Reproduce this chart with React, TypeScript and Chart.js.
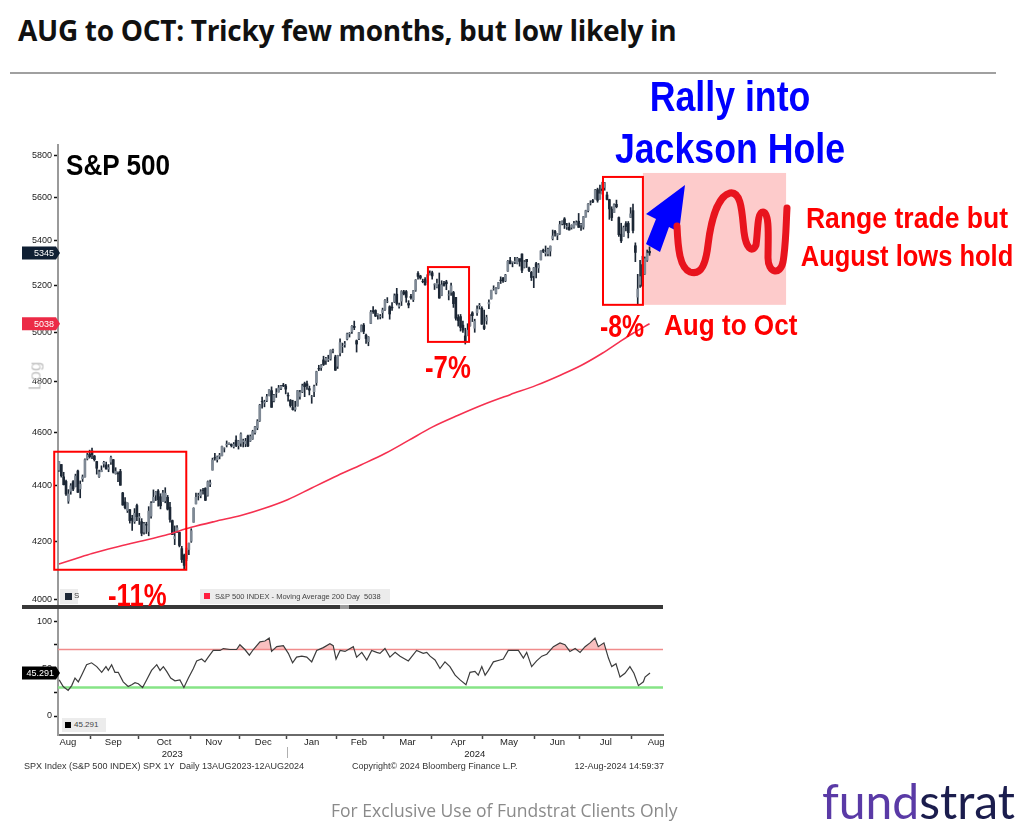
import React, { useEffect, useRef } from 'react';
import { Chart, registerables } from 'chart.js';

Chart.register(...registerables);

// ---------------- DATA (S&P 500 daily, 14 Aug 2023 - 12 Aug 2024) ----------------
const opens = [
  4458, 4479, 4433, 4416, 4344, 4380, 4415, 4397, 4455, 4389, 4426, 4433, 4500, 4518,
  4530, 4511, 4490, 4434, 4452, 4481, 4477, 4462, 4488, 4497, 4445, 4446, 4453, 4374, 4341, 4310, 4313, 4282, 4270, 4328,
  4284, 4270, 4233, 4260, 4235, 4290, 4339, 4366, 4381, 4360, 4342, 4345, 4358, 4322, 4274, 4210, 4235, 4232, 4175, 4152, 4140, 4172,
  4201, 4268, 4334, 4365, 4364, 4384, 4391, 4365, 4406, 4458, 4505, 4497, 4510, 4512, 4538, 4553, 4555, 4555, 4546, 4571, 4550,
  4559, 4565, 4557, 4587, 4568, 4576, 4600, 4618, 4646, 4721, 4715, 4725, 4744, 4764, 4724, 4754, 4759, 4773, 4786, 4783,
  4745, 4726, 4697, 4690, 4703, 4741, 4759, 4792, 4791, 4772, 4739, 4760, 4796, 4853, 4856, 4888, 4886, 4888, 4892, 4925, 4900,
  4862, 4916, 4943, 4950, 4974, 4995, 5005, 5027, 4967, 4976, 5004, 5032, 4990, 4963, 5039, 5093, 5094, 5075, 5068, 5085,
  5098, 5131, 5110, 5108, 5132, 5164, 5111, 5134, 5174, 5175, 5124, 5154, 5140, 5181, 5254, 5243, 5219, 5228, 5226, 5248,
  5257, 5204, 5194, 5205, 5158, 5211, 5217, 5160, 5172, 5171, 5150, 5064, 5068, 5032, 4987, 4987, 5029, 5084, 5019, 5084, 5114, 5103,
  5029, 5050, 5122, 5143, 5187, 5168, 5189, 5225, 5233, 5222, 5264, 5310, 5303, 5305, 5298, 5320, 5340, 5281, 5316, 5278, 5259, 5244,
  5297, 5278, 5314, 5357, 5343, 5341, 5353, 5409, 5441, 5424, 5432, 5477, 5499, 5462, 5461, 5460, 5460, 5473, 5488,
  5471, 5461, 5507, 5537, 5572, 5584, 5591, 5635, 5590, 5638, 5645, 5610, 5588, 5544, 5528, 5566, 5505, 5429, 5419, 5477, 5479, 5506,
  5537, 5377, 5151, 5206, 5293, 5253, 5312, 5352,
];
const highs = [
  4490, 4479, 4450, 4421, 4386, 4408, 4419, 4443, 4458, 4418, 4440, 4500, 4521, 4533,
  4541, 4513, 4491, 4458, 4474, 4491, 4488, 4479, 4511, 4498, 4467, 4452, 4461, 4376, 4357, 4338, 4314, 4293, 4317, 4333,
  4300, 4281, 4268, 4268, 4324, 4342, 4385, 4379, 4386, 4371, 4383, 4393, 4365, 4340, 4276, 4255, 4256, 4233, 4183, 4156, 4177, 4194,
  4245, 4320, 4373, 4373, 4386, 4391, 4393, 4418, 4421, 4503, 4521, 4511, 4521, 4548, 4542, 4568, 4561, 4557, 4562, 4588, 4570,
  4599, 4575, 4578, 4590, 4591, 4609, 4624, 4650, 4710, 4738, 4726, 4749, 4768, 4779, 4749, 4772, 4785, 4785, 4793, 4789,
  4755, 4729, 4726, 4722, 4765, 4765, 4790, 4798, 4802, 4782, 4745, 4786, 4842, 4866, 4869, 4903, 4898, 4907, 4929, 4932, 4907,
  4907, 4975, 4957, 4964, 4999, 5001, 5030, 5049, 4970, 5002, 5033, 5039, 4994, 4984, 5094, 5111, 5097, 5080, 5077, 5104,
  5141, 5149, 5114, 5128, 5165, 5189, 5125, 5179, 5180, 5180, 5136, 5163, 5180, 5227, 5262, 5246, 5229, 5236, 5248, 5265,
  5264, 5209, 5229, 5256, 5222, 5219, 5224, 5179, 5212, 5176, 5150, 5076, 5077, 5049, 5019, 5038, 5077, 5089, 5057, 5114, 5124, 5110,
  5096, 5074, 5139, 5181, 5200, 5192, 5215, 5239, 5237, 5250, 5311, 5325, 5305, 5325, 5325, 5315, 5341, 5311, 5316, 5282, 5263, 5280,
  5303, 5298, 5354, 5362, 5376, 5366, 5376, 5448, 5447, 5432, 5488, 5490, 5505, 5478, 5480, 5472, 5488, 5490, 5524,
  5479, 5510, 5539, 5570, 5583, 5590, 5636, 5642, 5656, 5670, 5669, 5623, 5590, 5555, 5568, 5586, 5508, 5479, 5466, 5487, 5487, 5551,
  5567, 5390, 5250, 5312, 5330, 5327, 5358, 5372,
];
const lows = [
  4453, 4432, 4403, 4365, 4336, 4369, 4382, 4396, 4376, 4356, 4416, 4432, 4496, 4503,
  4501, 4492, 4443, 4431, 4452, 4469, 4462, 4452, 4479, 4447, 4443, 4415, 4402, 4329, 4316, 4303, 4265, 4239, 4264, 4274,
  4260, 4220, 4226, 4228, 4220, 4283, 4339, 4346, 4326, 4316, 4342, 4338, 4312, 4268, 4224, 4189, 4231, 4181, 4127, 4103, 4133, 4154,
  4197, 4268, 4334, 4348, 4356, 4369, 4346, 4362, 4397, 4458, 4495, 4488, 4500, 4511, 4526, 4545, 4554, 4545, 4541, 4546, 4537,
  4547, 4545, 4546, 4546, 4566, 4574, 4594, 4611, 4643, 4695, 4700, 4720, 4743, 4698, 4719, 4737, 4758, 4768, 4780, 4751,
  4722, 4699, 4687, 4683, 4703, 4730, 4756, 4740, 4769, 4747, 4714, 4740, 4785, 4844, 4845, 4865, 4870, 4881, 4887, 4917, 4845,
  4853, 4904, 4918, 4940, 4970, 4982, 4997, 5013, 4920, 4971, 5004, 4996, 4956, 4946, 5038, 5081, 5068, 5057, 5058, 5062,
  5094, 5127, 5057, 5094, 5128, 5117, 5104, 5115, 5161, 5129, 5105, 5142, 5132, 5176, 5229, 5229, 5213, 5203, 5214, 5248,
  5229, 5184, 5191, 5146, 5157, 5198, 5183, 5139, 5158, 5107, 5053, 5028, 5007, 5001, 4953, 4990, 5028, 5047, 5002, 5073, 5100, 5035,
  5013, 5036, 5102, 5143, 5181, 5165, 5187, 5210, 5215, 5218, 5263, 5296, 5283, 5297, 5296, 5286, 5257, 5278, 5280, 5262, 5223, 5192,
  5234, 5258, 5314, 5346, 5331, 5331, 5331, 5403, 5420, 5404, 5428, 5471, 5455, 5451, 5448, 5452, 5456, 5471, 5460,
  5446, 5452, 5507, 5531, 5563, 5574, 5591, 5576, 5590, 5614, 5632, 5587, 5497, 5491, 5527, 5550, 5419, 5391, 5419, 5444, 5412, 5505,
  5435, 5306, 5120, 5193, 5196, 5250, 5307, 5334,
];
const closes = [
  4490, 4437, 4404, 4370, 4370, 4400, 4388, 4436, 4376, 4406, 4433, 4497, 4514, 4508,
  4516, 4497, 4465, 4451, 4457, 4487, 4462, 4467, 4505, 4450, 4454, 4444, 4402, 4330, 4320, 4337, 4274, 4275, 4300, 4288,
  4288, 4229, 4263, 4258, 4308, 4336, 4358, 4377, 4349, 4327, 4374, 4373, 4315, 4278, 4224, 4217, 4248, 4186, 4137, 4117, 4167, 4194,
  4238, 4318, 4358, 4366, 4378, 4383, 4347, 4415, 4411, 4496, 4503, 4508, 4514, 4547, 4538, 4556, 4559, 4550, 4555, 4551, 4568,
  4595, 4569, 4567, 4549, 4585, 4604, 4622, 4644, 4707, 4720, 4719, 4740, 4768, 4698, 4746, 4755, 4775, 4781, 4783, 4770,
  4743, 4705, 4689, 4697, 4764, 4757, 4783, 4780, 4784, 4766, 4739, 4780, 4840, 4851, 4865, 4869, 4894, 4891, 4928, 4925, 4846,
  4906, 4959, 4943, 4954, 4995, 4998, 5027, 5022, 4953, 5001, 5030, 5006, 4976, 4982, 5087, 5089, 5070, 5078, 5069, 5096,
  5137, 5131, 5079, 5105, 5157, 5124, 5117, 5175, 5165, 5150, 5117, 5149, 5179, 5225, 5241, 5234, 5218, 5204, 5248, 5254,
  5243, 5205, 5211, 5147, 5204, 5202, 5209, 5161, 5200, 5123, 5061, 5051, 5022, 5011, 4967, 5011, 5070, 5072, 5048, 5100, 5116, 5036,
  5018, 5064, 5128, 5181, 5187, 5188, 5214, 5223, 5221, 5247, 5308, 5297, 5303, 5308, 5321, 5307, 5268, 5305, 5306, 5267, 5236, 5278,
  5283, 5291, 5354, 5352, 5347, 5361, 5375, 5421, 5434, 5432, 5473, 5487, 5473, 5464, 5448, 5469, 5478, 5482, 5460,
  5475, 5509, 5537, 5567, 5572, 5577, 5633, 5585, 5615, 5631, 5667, 5589, 5545, 5505, 5564, 5555, 5427, 5399, 5459, 5464, 5436, 5522,
  5446, 5347, 5186, 5240, 5199, 5319, 5344, 5345,
];

// 200-day moving average, read at trading-day positions
const maDays = [0, 7, 14, 24, 34, 45, 56, 66, 77, 87, 97, 107, 118, 128, 138, 148, 158, 169, 180, 191, 202, 212, 221, 230, 237, 243, 250];
const maValues = [4122, 4140, 4158, 4180, 4200, 4222, 4250, 4271, 4292, 4318, 4350, 4392, 4438, 4478, 4520, 4570, 4621, 4667, 4710, 4748, 4785, 4825, 4865, 4915, 4960, 4998, 5038];

// RSI (14d), read at trading-day positions
const rsiDays = [0.1, 1.8, 3.9, 5.4, 6.8, 8.2, 9.6, 11.7, 13.8, 16, 18.1, 19.9, 20.9, 22.3, 23.7, 25.1, 27.2, 29.3, 30.8, 32.2, 33.6, 35.4, 37.1, 39.2, 41.4, 42.8, 44.2, 45.6, 47.3, 49.1, 51.2, 52.9, 54.8, 56.9, 58.3, 60.4, 61.8, 63.2, 65.3, 68.2, 69.6, 72.4, 75.2, 76.6, 78.7, 80.6, 82.3, 85.1, 87.2, 89, 90, 92.2, 95, 97.1, 98.9, 100.6, 102.8, 104.9, 107, 109.1, 111.9, 114.7, 116.1, 117.3, 119, 121.1, 124.6, 126, 128.2, 130.3, 132.4, 134.5, 135.9, 138, 140.1, 142.3, 144.4, 147.9, 151.4, 154.2, 155.7, 157.1, 159.2, 161.3, 163.4, 165.5, 167.7, 169.8, 172.3, 174, 176.1, 177.5, 179, 180.4, 181.8, 183.9, 186.7, 188.1, 190.2, 193.1, 194.5, 196.6, 198, 200.1, 202.2, 204.4, 206.5, 209.3, 212.1, 214.2, 216.3, 218.5, 220.6, 222.7, 224.8, 226.9, 228.3, 230.7, 232.6, 234, 235.8, 237.5, 239.6, 241.7, 243.4, 245.3, 247.4, 248.1, 250.2];
const rsiValues = [38, 31, 27, 32, 40, 36, 43, 54, 56, 52, 46, 52, 48, 54, 46, 46, 36, 31, 33, 35, 34, 30, 38, 48, 54, 48, 52, 47, 40, 37, 38, 30, 40, 50, 58, 60, 57, 62, 69, 69, 71, 70, 70, 75, 70, 64, 70, 78, 79, 82, 68, 73, 74, 66, 56, 62, 63, 62, 57, 69, 72, 76, 74, 60, 69, 68, 73, 62, 67, 59, 69, 67, 66, 71, 62, 67, 63, 58, 69, 66, 67, 63, 59, 50, 57, 52, 43, 38, 33, 46, 47, 43, 52, 43, 48, 57, 59, 60, 69, 69, 69, 61, 67, 52, 58, 63, 65, 73, 77, 75, 68, 71, 67, 73, 77, 82, 73, 77, 61, 52, 55, 41, 45, 52, 45, 32, 36, 41, 45.291];

const priceTicks = [4000, 4200, 4400, 4600, 4800, 5000, 5200, 5400, 5600, 5800];
const rsiTicks = [0, 25, 50, 75, 100];
const rsiTickLabels = ['0', '', '50', '', '100'];
const rsiUpper = 70;
const rsiLower = 30;
const monthBoundaries = [13.5, 33.5, 55.5, 76.5, 96.5, 117.5, 137.5, 157.5, 179.5, 201.5, 220.5, 242.5];
const monthLabels = ['Aug', 'Sep', 'Oct', 'Nov', 'Dec', 'Jan', 'Feb', 'Mar', 'Apr', 'May', 'Jun', 'Jul', 'Aug'];
const monthLabelDays = [3.8, 23, 44.5, 65.5, 86.5, 107, 127, 147.5, 169, 190.5, 211, 231.5, 252.8];
const yearLabels = ['2023', '2024'];
const yearLabelDays = [48, 176];
const yearBreakDay = 96.5;
const lastPrice = 5345;
const lastMA = 5038;
const lastRSI = 45.291;

// annotation regions (trading-day index, price)
const drawdownBoxes = [
  { from: -2, to: 53.9, hi: 4527, lo: 4102 },
  { from: 156.2, to: 173.6, hi: 5282, lo: 4962 },
  { from: 230.3, to: 247.2, hi: 5695, lo: 5118 },
];
const rangeShade = { from: 247.2, to: 307.8, hi: 5714, lo: 5118 };

// ---------------- LAYOUT CONSTANTS ----------------
const X_MIN = -0.4;
const X_MAX = 255.7;
const TICK_FONT = '"Liberation Sans", Arial, sans-serif';
const NAVY = '#1c2735';

function drawTag(ctx: CanvasRenderingContext2D, y: number, text: string, bg: string) {
  ctx.save();
  ctx.fillStyle = bg;
  ctx.beginPath();
  ctx.moveTo(22, y - 6.5);
  ctx.lineTo(56, y - 6.5);
  ctx.lineTo(60, y);
  ctx.lineTo(56, y + 6.5);
  ctx.lineTo(22, y + 6.5);
  ctx.closePath();
  ctx.fill();
  ctx.fillStyle = '#ffffff';
  ctx.font = `9px ${TICK_FONT}`;
  ctx.textAlign = 'right';
  ctx.textBaseline = 'middle';
  ctx.fillText(text, 54, y + 0.5);
  ctx.restore();
}

const pricePlugin = {
  id: 'priceAnnotations',
  beforeDatasetsDraw(chart: any) {
    const { ctx, scales } = chart;
    const x = scales.x, y = scales.y;
    const x0 = x.getPixelForValue(rangeShade.from), x1 = x.getPixelForValue(rangeShade.to);
    const y0 = y.getPixelForValue(rangeShade.hi), y1 = y.getPixelForValue(rangeShade.lo);
    ctx.save();
    ctx.fillStyle = '#fdcbcb';
    ctx.fillRect(x0, y0, x1 - x0, y1 - y0);
    ctx.restore();
  },
  afterDatasetsDraw(chart: any) {
    const { ctx, scales } = chart;
    const x = scales.x, y = scales.y;
    ctx.save();
    ctx.strokeStyle = '#ff0000';
    ctx.lineWidth = 2;
    drawdownBoxes.forEach((b) => {
      const x0 = x.getPixelForValue(b.from), x1 = x.getPixelForValue(b.to);
      const y0 = y.getPixelForValue(b.hi), y1 = y.getPixelForValue(b.lo);
      ctx.strokeRect(x0, y0, x1 - x0, y1 - y0);
    });
    ctx.restore();
  },
  afterDraw(chart: any) {
    const { ctx, scales } = chart;
    drawTag(ctx, scales.y.getPixelForValue(lastPrice), String(lastPrice), '#0f1f33');
    drawTag(ctx, scales.y.getPixelForValue(lastMA), String(lastMA), '#ec2a46');
  },
};

const rsiPlugin = {
  id: 'rsiExtras',
  afterDraw(chart: any) {
    const { ctx, scales, chartArea } = chart;
    const xb = scales.x.getPixelForValue(yearBreakDay);
    ctx.save();
    ctx.strokeStyle = '#b0b0b0';
    ctx.lineWidth = 1;
    ctx.beginPath();
    ctx.moveTo(Math.round(xb) + 0.5, chartArea.bottom + 12);
    ctx.lineTo(Math.round(xb) + 0.5, chartArea.bottom + 23);
    ctx.stroke();
    ctx.restore();
    drawTag(ctx, scales.y.getPixelForValue(lastRSI), String(lastRSI), '#000000');
  },
};

type XTick = { value: number; label: string | string[]; boundary: boolean };
const xTickDefs: XTick[] = [
  ...monthBoundaries.map((v) => ({ value: v, label: '', boundary: true })),
  ...monthLabelDays.map((v, i) => ({ value: v, label: monthLabels[i], boundary: false })),
  ...yearLabelDays.map((v, i) => ({ value: v, label: ['', yearLabels[i]], boundary: false })),
].sort((a, b) => a.value - b.value);

function zeroPad(scale: any) {
  scale.paddingTop = 0;
  scale.paddingBottom = 0;
  scale.paddingLeft = 0;
  scale.paddingRight = 0;
}

function Label(props: { text: string; x: number; baseline: number; size: number; color: string; sx: number; align?: 'left' | 'center' }) {
  const { text, x, baseline, size, color, sx, align = 'left' } = props;
  const top = baseline - 0.8465 * size;
  return (
    <div
      style={{
        position: 'absolute',
        left: x,
        top,
        fontFamily: TICK_FONT,
        fontWeight: 700,
        fontSize: size,
        lineHeight: 1,
        color,
        whiteSpace: 'nowrap',
        transform: align === 'center' ? `translateX(-50%) scaleX(${sx})` : `scaleX(${sx})`,
        transformOrigin: align === 'center' ? 'center' : 'left',
      }}
    >
      {text}
    </div>
  );
}

export default function App() {
  const priceRef = useRef<HTMLCanvasElement>(null);
  const rsiRef = useRef<HTMLCanvasElement>(null);

  useEffect(() => {
    const wicks = closes.map((_, i) => ({ x: i, y: [lows[i], highs[i]] }));
    const bodies = closes.map((c, i) => ({ x: i, y: [opens[i], c] }));
    const maPoints = maDays.map((d, i) => ({ x: d, y: maValues[i] }));

    const priceChart = new Chart(priceRef.current as HTMLCanvasElement, {
      type: 'bar',
      data: {
        datasets: [
          {
            type: 'line',
            data: maPoints,
            borderColor: '#f5304f',
            borderWidth: 1.6,
            pointRadius: 0,
            cubicInterpolationMode: 'monotone',
            order: 0,
          } as any,
          {
            type: 'bar',
            data: wicks,
            backgroundColor: NAVY,
            barThickness: 1,
            grouped: false,
            order: 2,
          } as any,
          {
            type: 'bar',
            data: bodies,
            backgroundColor: (c: any) => (closes[c.dataIndex] >= opens[c.dataIndex] ? '#7f8995' : NAVY),
            barThickness: 2,
            grouped: false,
            order: 1,
          } as any,
        ],
      },
      options: {
        animation: false,
        responsive: false,
        maintainAspectRatio: false,
        devicePixelRatio: 1,
        layout: { padding: { top: 10, right: 361, bottom: 10, left: 0 } },
        plugins: { legend: { display: false }, tooltip: { enabled: false } },
        scales: {
          x: { type: 'linear', min: X_MIN, max: X_MAX, offset: false, grid: { offset: false }, display: false },
          y: {
            type: 'logarithmic',
            min: 3983,
            max: 5849,
            afterBuildTicks: (s: any) => {
              s.ticks = priceTicks.map((v) => ({ value: v }));
            },
            afterFit: (s: any) => {
              s.width = 58;
              zeroPad(s);
            },
            ticks: {
              callback: (v: any) => String(v),
              font: { family: TICK_FONT, size: 9 },
              color: '#222',
              padding: 2,
              autoSkip: false,
            },
            grid: { drawOnChartArea: false, tickLength: 4, tickColor: '#111', tickWidth: 1.5 },
            border: { color: '#9a9a9a', width: 2 },
          },
        },
      } as any,
      plugins: [pricePlugin],
    });

    const rsiPoints = rsiDays.map((d, i) => ({ x: d, y: rsiValues[i] }));
    const rsiChart = new Chart(rsiRef.current as HTMLCanvasElement, {
      type: 'line',
      data: {
        datasets: [
          {
            data: rsiPoints,
            borderColor: '#3c3c3c',
            borderWidth: 1.2,
            pointRadius: 0,
            fill: { value: rsiUpper, above: 'rgba(244,140,140,0.55)', below: 'rgba(0,0,0,0)' },
            order: 0,
          } as any,
          {
            data: [{ x: X_MIN, y: rsiUpper }, { x: X_MAX, y: rsiUpper }],
            borderColor: '#f08c8c',
            borderWidth: 1.5,
            pointRadius: 0,
            order: 1,
          },
          {
            data: [{ x: X_MIN, y: rsiLower }, { x: X_MAX, y: rsiLower }],
            borderColor: '#86e486',
            borderWidth: 2.5,
            pointRadius: 0,
            order: 1,
          },
        ],
      },
      options: {
        animation: false,
        responsive: false,
        maintainAspectRatio: false,
        devicePixelRatio: 1,
        layout: { padding: { top: 4, right: 361, bottom: 5, left: 0 } },
        plugins: { legend: { display: false }, tooltip: { enabled: false } },
        scales: {
          x: {
            type: 'linear',
            min: X_MIN,
            max: X_MAX,
            offset: false,
            afterBuildTicks: (s: any) => {
              s.ticks = xTickDefs.map((d) => ({ value: d.value }));
            },
            afterFit: (s: any) => {
              s.height = 40;
              zeroPad(s);
            },
            ticks: {
              callback: (_v: any, i: number) => xTickDefs[i].label,
              font: { family: TICK_FONT, size: 9.5 },
              color: '#222',
              padding: -2,
              autoSkip: false,
              maxRotation: 0,
              minRotation: 0,
            },
            grid: {
              drawOnChartArea: false,
              tickLength: 4,
              tickWidth: 1.5,
              tickColor: (c: any) => (xTickDefs[c.index] && xTickDefs[c.index].boundary ? '#444' : 'rgba(0,0,0,0)'),
            },
            border: { color: '#6a6a6a', width: 2 },
          },
          y: {
            type: 'linear',
            min: -20,
            max: 111.6,
            afterBuildTicks: (s: any) => {
              s.ticks = rsiTicks.map((v) => ({ value: v }));
            },
            afterFit: (s: any) => {
              s.width = 58;
              zeroPad(s);
            },
            ticks: {
              callback: (_v: any, i: number) => rsiTickLabels[i],
              font: { family: TICK_FONT, size: 9 },
              color: '#222',
              padding: 2,
              autoSkip: false,
            },
            grid: { drawOnChartArea: false, tickLength: 4, tickColor: '#111', tickWidth: 1.5 },
            border: { color: '#9a9a9a', width: 2 },
          },
        },
      } as any,
      plugins: [rsiPlugin],
    });

    return () => {
      priceChart.destroy();
      rsiChart.destroy();
    };
  }, []);

  const small = { position: 'absolute' as const, fontFamily: TICK_FONT, fontSize: 9, lineHeight: 1, color: '#333', whiteSpace: 'nowrap' as const };

  return (
    <div style={{ position: 'absolute', left: 0, top: 0, width: 1024, height: 829, background: '#fff', overflow: 'hidden' }}>
      {/* Title */}
      <div style={{ position: 'absolute', left: 18, top: 16, fontFamily: '"Open Sans", sans-serif', fontWeight: 700, fontSize: 28, lineHeight: 1, color: '#111', whiteSpace: 'nowrap', letterSpacing: -0.3 }}>
        AUG to OCT: Tricky few months, but low likely in
      </div>
      <div style={{ position: 'absolute', left: 10, top: 72, width: 986, height: 1.5, background: '#a0a0a0' }} />

      {/* charts */}
      <canvas ref={priceRef} width={1024} height={480} style={{ position: 'absolute', left: 0, top: 135, width: 1024, height: 480 }} />
      <canvas ref={rsiRef} width={1024} height={174} style={{ position: 'absolute', left: 0, top: 606, width: 1024, height: 174 }} />

      {/* Log label */}
      <div style={{ position: 'absolute', left: 35, top: 376, fontFamily: TICK_FONT, fontSize: 17, lineHeight: 1, color: '#c4c4c4', transform: 'translate(-50%,-50%) rotate(-90deg)' }}>Log</div>

      {/* panel separator */}
      <div style={{ position: 'absolute', left: 22, top: 605, width: 641, height: 4, background: '#383838' }} />
      <div style={{ position: 'absolute', left: 340, top: 605, width: 9, height: 4, background: '#9a9a9a' }} />

      {/* legends */}
      <div style={{ position: 'absolute', left: 60, top: 589, width: 18, height: 15, background: '#ececec' }}>
        <div style={{ position: 'absolute', left: 5, top: 4, width: 7, height: 7, background: NAVY }} />
        <div style={{ ...small, left: 14, top: 3, fontSize: 8, color: '#444' }}>S</div>
      </div>
      <div style={{ position: 'absolute', left: 200, top: 589, width: 190, height: 15, background: '#ececec' }}>
        <div style={{ position: 'absolute', left: 4, top: 4, width: 6, height: 6, background: '#ff2040' }} />
        <div style={{ ...small, left: 15, top: 3.5, fontSize: 7.5, color: '#444' }}>S&amp;P 500 INDEX - Moving Average 200 Day&nbsp; 5038</div>
      </div>
      <div style={{ position: 'absolute', left: 62, top: 718, width: 44, height: 14, background: '#ececec' }}>
        <div style={{ position: 'absolute', left: 3, top: 4, width: 6, height: 6, background: '#000' }} />
        <div style={{ ...small, left: 12, top: 3, fontSize: 8, color: '#444' }}>45.291</div>
      </div>

      {/* footer of bloomberg chart */}
      <div style={{ ...small, left: 24, top: 762 }}>SPX Index (S&amp;P 500 INDEX) SPX 1Y&nbsp; Daily 13AUG2023-12AUG2024</div>
      <div style={{ ...small, left: 352, top: 762 }}>Copyright© 2024 Bloomberg Finance L.P.</div>
      <div style={{ ...small, right: 360, top: 762 }}>12-Aug-2024 14:59:37</div>

      {/* annotations */}
      <svg width={1024} height={829} style={{ position: 'absolute', left: 0, top: 0, pointerEvents: 'none' }}>
        <polygon points="685,185 646,214 656,219 646,244 660,252 669,227 679,232" fill="#0000ff" />
        <path
          d="M 677 226 C 678 250, 680 268, 690 272 C 702 276, 706 262, 708 245 C 711 220, 718 196, 730 193 C 742 191, 742 215, 744 232 C 746 248, 752 254, 756 245 C 758 232, 757 212, 763 212 C 770 212, 768 240, 768 258 C 768 273, 780 276, 783 262 C 786 245, 786 225, 787 208"
          fill="none"
          stroke="#e8141e"
          strokeWidth={7}
          strokeLinecap="round"
          strokeLinejoin="round"
        />
      </svg>

      <Label text="Rally into" x={730} baseline={112} size={42} color="#0000ff" sx={0.85} align="center" />
      <Label text="Jackson Hole" x={730} baseline={164} size={42} color="#0000ff" sx={0.85} align="center" />
      <Label text="S&P 500" x={66} baseline={175} size={30} color="#000" sx={0.87} />
      <Label text="-11%" x={108} baseline={606} size={31} color="#ff0000" sx={0.83} />
      <Label text="-7%" x={425} baseline={378} size={31} color="#ff0000" sx={0.83} />
      <Label text="-8%" x={600} baseline={337} size={31} color="#ff0000" sx={0.8} />
      <Label text="Aug to Oct" x={664} baseline={335} size={30} color="#ff0000" sx={0.87} />
      <Label text="Range trade but" x={907} baseline={228} size={30} color="#ff0000" sx={0.885} align="center" />
      <Label text="August lows hold" x={907} baseline={266} size={30} color="#ff0000" sx={0.85} align="center" />

      {/* page footer */}
      <div style={{ position: 'absolute', left: 331, top: 802, fontFamily: '"Open Sans", sans-serif', fontSize: 17.5, lineHeight: 1, color: '#8a8a8a', whiteSpace: 'nowrap' }}>
        For Exclusive Use of Fundstrat Clients Only
      </div>
      <div style={{ position: 'absolute', left: 822, top: 777, fontFamily: 'Lato, sans-serif', fontSize: 48, lineHeight: 1, whiteSpace: 'nowrap' }}>
        <span style={{ color: '#5a3aa6' }}>fund</span>
        <span style={{ color: '#1b1d4d' }}>strat</span>
      </div>
    </div>
  );
}
